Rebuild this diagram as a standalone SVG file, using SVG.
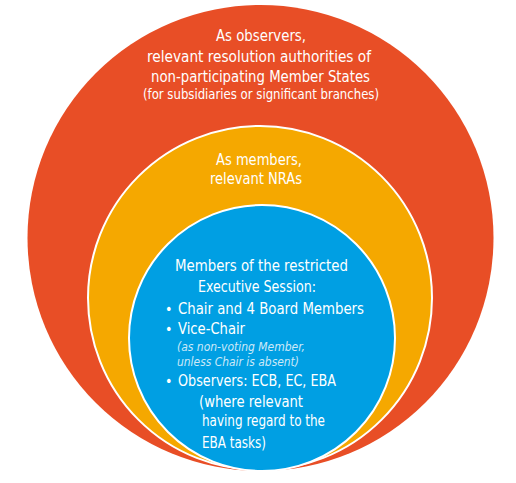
<svg xmlns="http://www.w3.org/2000/svg" width="516" height="483" viewBox="0 0 516 483">
<style>
text{font-family:"DejaVu Sans Condensed","DejaVu Sans","Liberation Sans",sans-serif;font-stretch:condensed;fill:#fff;font-size:16px}
.c{text-anchor:middle}
.s{font-size:14px}
.i{font-size:13px;font-style:italic;fill:#cde9f8}
.b{font-size:14px}
</style>
<rect width="516" height="483" fill="#fff"/>
<g id="outer">
<circle cx="260.5" cy="238" r="233" fill="#E84E26"/>
<text class="c" x="261" y="41" textLength="90" lengthAdjust="spacingAndGlyphs">As observers,</text>
<text class="c" x="259" y="62" textLength="224" lengthAdjust="spacingAndGlyphs">relevant resolution authorities of</text>
<text class="c" x="260.5" y="82" textLength="219" lengthAdjust="spacingAndGlyphs">non-participating Member States</text>
<text class="c s" x="261" y="99" textLength="236" lengthAdjust="spacingAndGlyphs">(for subsidiaries or significant branches)</text>
</g>
<g id="middle">
<circle cx="260" cy="298" r="172" fill="#F5A800" stroke="#fff" stroke-width="2"/>
<text class="c" x="259" y="165" textLength="86" lengthAdjust="spacingAndGlyphs">As members,</text>
<text class="c" x="256" y="184" textLength="92" lengthAdjust="spacingAndGlyphs">relevant NRAs</text>
</g>
<g id="inner">
<circle cx="262" cy="338" r="133" fill="#009FE3" stroke="#fff" stroke-width="2"/>
<text class="c" x="261.5" y="271" textLength="173" lengthAdjust="spacingAndGlyphs">Members of the restricted</text>
<text class="c" x="257" y="292" textLength="118" lengthAdjust="spacingAndGlyphs">Executive Session:</text>
<text class="b" x="165" y="314">•</text>
<text x="178" y="314" textLength="186" lengthAdjust="spacingAndGlyphs">Chair and 4 Board Members</text>
<text class="b" x="165" y="334">•</text>
<text x="178" y="334" textLength="67" lengthAdjust="spacingAndGlyphs">Vice-Chair</text>
<text class="i" x="177" y="351" textLength="128" lengthAdjust="spacingAndGlyphs">(as non-voting Member,</text>
<text class="i" x="177" y="366" textLength="122" lengthAdjust="spacingAndGlyphs">unless Chair is absent)</text>
<text class="b" x="165" y="386">•</text>
<text x="178" y="386" textLength="158" lengthAdjust="spacingAndGlyphs">Observers: ECB, EC, EBA</text>
<text x="199" y="407" textLength="104" lengthAdjust="spacingAndGlyphs">(where relevant</text>
<text x="202" y="426" textLength="123" lengthAdjust="spacingAndGlyphs">having regard to the</text>
<text x="202" y="448" textLength="64" lengthAdjust="spacingAndGlyphs">EBA tasks)</text>
</g>
<g id="connectors"/>
</svg>
